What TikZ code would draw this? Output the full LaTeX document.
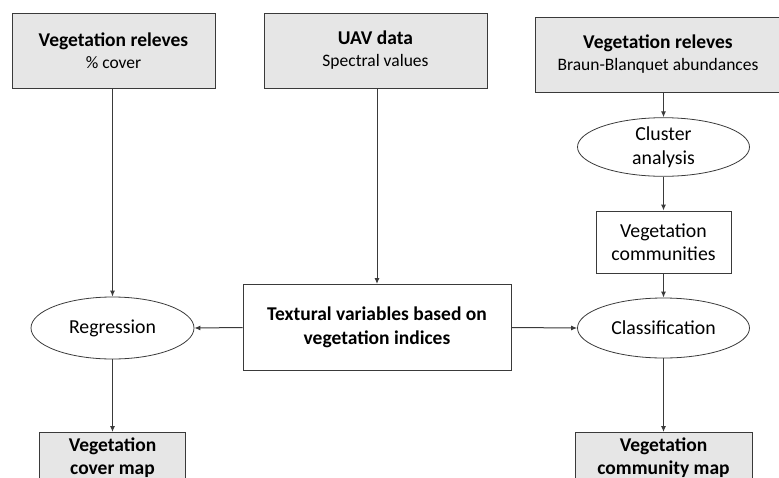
\documentclass[tikz,border=0pt]{standalone}
\usepackage{fontspec}
\setmainfont{Carlito}
\usetikzlibrary{shapes.geometric,arrows.meta}
\definecolor{boxfill}{HTML}{E6E6E6}
\definecolor{linec}{HTML}{3A3A3A}
\tikzset{
  ttl/.style={font=\fontsize{19.5}{23.5}\selectfont\bfseries},
  sub/.style={font=\fontsize{17.5}{22}\selectfont},
  greybox/.style={draw=linec, line width=1pt, fill=boxfill, rectangle, align=center, inner sep=0pt, minimum height=75pt},
  mapbox/.style={draw=linec, line width=1pt, fill=boxfill, rectangle, align=center, inner xsep=0pt, inner ysep=5pt, anchor=north, text depth=16pt, ttl},
  whitebox/.style={draw=linec, line width=1pt, fill=white, rectangle, align=center, inner sep=0pt},
  oval/.style={draw=linec, line width=0.8pt, ellipse, align=center, inner sep=0pt, font=\fontsize{19.8}{24.5}\selectfont},
  conn/.style={draw=linec, line width=1pt, -{Latex[length=6pt,width=5pt]}},
}
\begin{document}
\begin{tikzpicture}[x=1pt,y=-1pt]
\useasboundingbox (0,0) rectangle (779,477);
\clip (0,0) rectangle (779,477);
% top boxes
\node[greybox, sub, minimum width=203pt] (rel1) at (113.5,50.5)
  {{\fontsize{19.5}{22}\selectfont\bfseries Vegetation releves}\\{\% cover}};
\node[greybox, sub, minimum width=223pt] (uav) at (375.5,50.5)
  {{\fontsize{19.5}{22}\selectfont\bfseries UAV data}\\{Spectral values}};
\node[greybox, sub, minimum width=246pt] (rel2) at (658,54.5)
  {{\fontsize{19.5}{22}\selectfont\bfseries Vegetation releves}\\{Braun-Blanquet abundances}};
% right column
\node[oval, minimum width=172pt, minimum height=58pt] (clu) at (663.5,147) {Cluster\\analysis};
\node[whitebox, minimum width=135pt, minimum height=62pt, font=\fontsize{19.8}{23}\selectfont] (com) at (663.5,242) {Vegetation\\communities};
\node[oval, minimum width=172pt, minimum height=60pt] (cla) at (663.5,328) {Classification};
\node[mapbox, minimum width=177pt] (cmap) at (663.5,432) {Vegetation\\community map};
% middle
\node[whitebox, minimum width=268pt, minimum height=86pt, ttl] (tex) at (377,327.5) {Textural variables based on\\vegetation indices};
% left column
\node[oval, minimum width=163pt, minimum height=62pt] (reg) at (112.5,328) {Regression};
\node[mapbox, minimum width=146pt] (vmap) at (112.5,432) {Vegetation\\cover map};
% connectors
\draw[conn] (rel1.south -| reg.north) -- (reg.north);
\draw[conn] (uav.south -| tex.north) -- (tex.north);
\draw[conn] (rel2.south -| clu.north) -- (clu.north);
\draw[conn] (clu) -- (com);
\draw[conn] (com) -- (cla);
\draw[conn] (cla) -- (cmap);
\draw[conn] (reg) -- (vmap);
\draw[conn] (tex.west) -- (reg.east);
\draw[conn] (tex.east) -- (cla.west);
\end{tikzpicture}
\end{document}
